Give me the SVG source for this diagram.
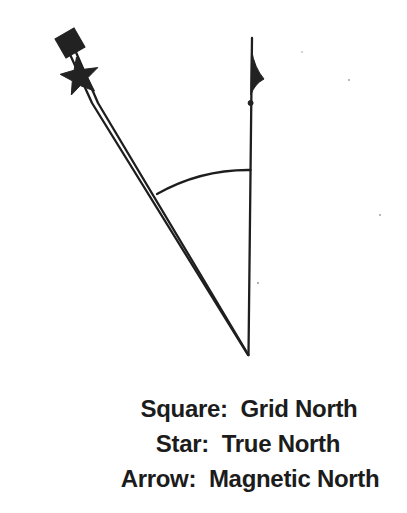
<svg xmlns="http://www.w3.org/2000/svg" width="407" height="513" viewBox="0 0 407 513">
<style>
.ln{fill:none;stroke:#1e1e1e;stroke-width:2.3;stroke-linejoin:round;stroke-linecap:round}
.sym{fill:#222;stroke:#222;stroke-width:1}
.lbl{font-family:"Liberation Sans",Arial,sans-serif;font-weight:bold;font-size:24px;fill:#1c1c1c;text-anchor:middle;letter-spacing:-0.3px}
.speck{fill:#999}
</style>
<rect width="407" height="513" fill="#fff"/>
<g id="connectors">
<polyline class="ln" points="248,355 92,103 68,50"/>
<polyline class="ln" points="248.5,355 98,103 75,50"/>
<path id="angle-arc" class="ln" d="M157,194 A185,185 0 0 1 250.5,170" stroke-width="1.9"/>
</g>
<g id="magnetic-north">
<line class="ln" x1="252" y1="38" x2="248.5" y2="355" stroke-width="2.4"/>
<path class="sym" d="M251.5,50 Q254.5,68 264,79 Q254.5,84 250.8,95 Z"/>
<circle class="sym" cx="250.6" cy="103" r="2.5"/>
</g>
<g id="grid-north">
<rect class="sym" x="59" y="32" width="22" height="22" transform="rotate(-30 70 43)"/>
</g>
<g id="true-north">
<polygon class="sym" points="76.5,57 83.8,69.3 97.8,67.6 87.8,77.7 94.5,91 80.2,85.6 71.3,95 72.3,80.8 60.2,74.3 74.1,70.2"/>
</g>
<g id="specks">
<circle class="speck" cx="258" cy="283" r="1"/>
<circle class="speck" cx="349" cy="80" r="0.9"/>
<circle class="speck" cx="380" cy="215" r="0.9"/>
<circle class="speck" cx="302" cy="52" r="0.8"/>
</g>
<g id="legend">
<text class="lbl" x="249" y="417" xml:space="preserve">Square:  Grid North</text>
<text class="lbl" x="248" y="452" xml:space="preserve">Star:  True North</text>
<text class="lbl" x="250" y="487" xml:space="preserve">Arrow:  Magnetic North</text>
</g>
</svg>
